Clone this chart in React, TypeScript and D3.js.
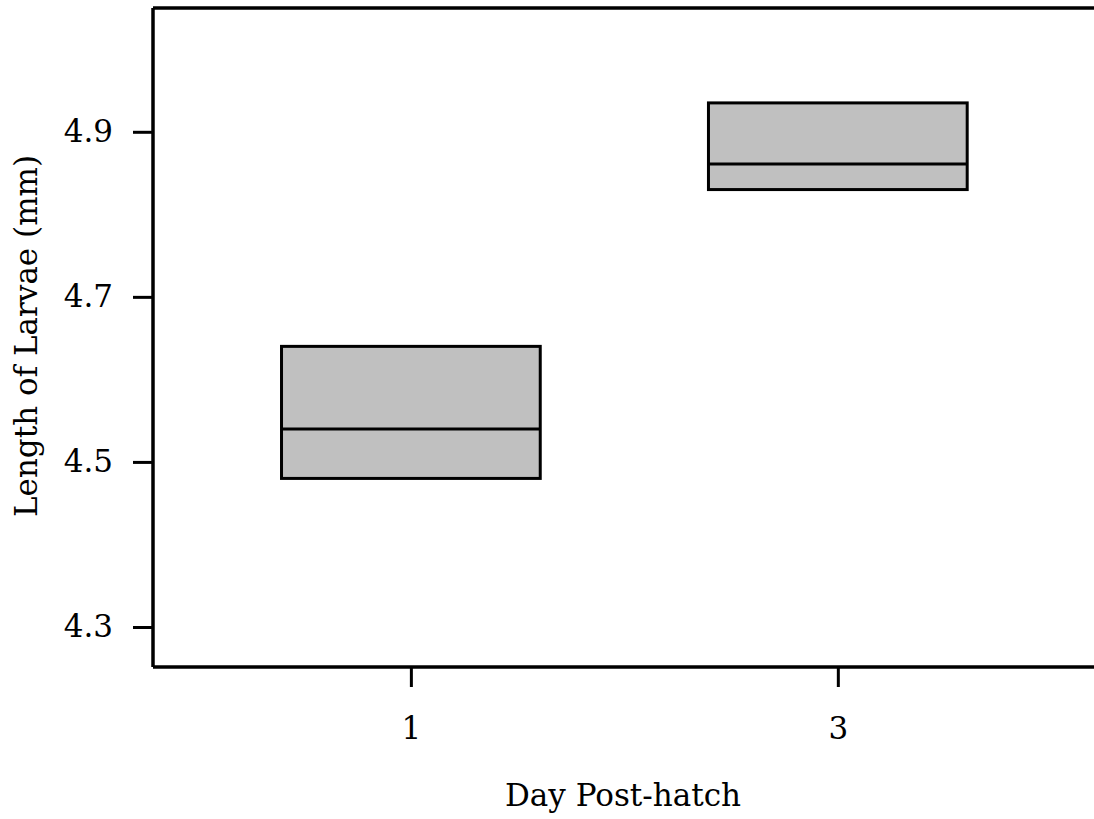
import * as React from "react";
import * as d3 from "d3";

// box summaries (min / median / max of the box)
const days = [1, 3];
const boxLow = [4.48, 4.83];
const boxMid = [4.54, 4.861];
const boxHigh = [4.64, 4.935];
const yTicks = [4.3, 4.5, 4.7, 4.9];

const W = 1094;
const H = 819;
const FONT = "'DejaVu Serif', 'Liberation Serif', serif";
const FS = 31;

export default function App() {
  const ref = React.useRef<SVGSVGElement>(null);

  React.useEffect(() => {
    const svg = d3.select(ref.current);
    svg.selectAll("*").remove();

    const left = 153;
    const top = 8;
    const bottom = 667;

    const x = d3.scaleLinear().domain([-0.208, 4.2]).range([left, W]);
    const y = d3.scaleLinear().domain([4.2515, 5.05]).range([bottom, top]);
    const halfW = 0.606;

    const boxes = days.map((d, i) => ({
      day: d,
      lo: boxLow[i],
      mid: boxMid[i],
      hi: boxHigh[i],
    }));

    const g = svg.append("g");

    // boxes
    const b = g.selectAll("g.box").data(boxes).enter().append("g").attr("class", "box");
    b.append("rect")
      .attr("x", (d) => x(d.day - halfW))
      .attr("width", (d) => x(d.day + halfW) - x(d.day - halfW))
      .attr("y", (d) => y(d.hi))
      .attr("height", (d) => y(d.lo) - y(d.hi))
      .attr("fill", "#c0c0c0")
      .attr("stroke", "#000")
      .attr("stroke-width", 3);
    b.append("line")
      .attr("x1", (d) => x(d.day - halfW))
      .attr("x2", (d) => x(d.day + halfW))
      .attr("y1", (d) => y(d.mid))
      .attr("y2", (d) => y(d.mid))
      .attr("stroke", "#000")
      .attr("stroke-width", 3);

    // top frame line
    g.append("line")
      .attr("x1", left)
      .attr("x2", W)
      .attr("y1", top)
      .attr("y2", top)
      .attr("stroke", "#000")
      .attr("stroke-width", 3.5);

    // y axis
    const yAxis = g
      .append("g")
      .attr("transform", `translate(${left},0)`)
      .call(
        d3.axisLeft(y).tickValues(yTicks).tickSize(20).tickPadding(20).tickFormat(d3.format(".1f"))
      );
    yAxis.select(".domain").attr("d", `M0,${top}V${bottom}`).attr("stroke-width", 3.5);
    yAxis.selectAll(".tick line").attr("stroke-width", 3);
    yAxis.selectAll("text").attr("font-family", FONT).attr("font-size", FS).attr("fill", "#000");

    // x axis
    const xAxis = g
      .append("g")
      .attr("transform", `translate(0,${bottom})`)
      .call(d3.axisBottom(x).tickValues(days).tickSize(20).tickPadding(30).tickFormat(d3.format("d")));
    xAxis.select(".domain").attr("d", `M${left},0H${W}`).attr("stroke-width", 3.5);
    xAxis.selectAll(".tick line").attr("stroke-width", 3);
    xAxis.selectAll("text").attr("font-family", FONT).attr("font-size", FS).attr("fill", "#000");

    // titles
    g.append("text")
      .attr("x", 623)
      .attr("y", 806)
      .attr("text-anchor", "middle")
      .attr("font-family", FONT)
      .attr("font-size", FS)
      .text("Day Post-hatch");
    g.append("text")
      .attr("transform", `translate(37,${(160 + 512) / 2}) rotate(-90)`)
      .attr("text-anchor", "middle")
      .attr("font-family", FONT)
      .attr("font-size", FS)
      .text("Length of Larvae (mm)");
  }, []);

  return <svg ref={ref} width={W} height={H} style={{ display: "block", position: "absolute", left: 0, top: 0 }} />;
}
